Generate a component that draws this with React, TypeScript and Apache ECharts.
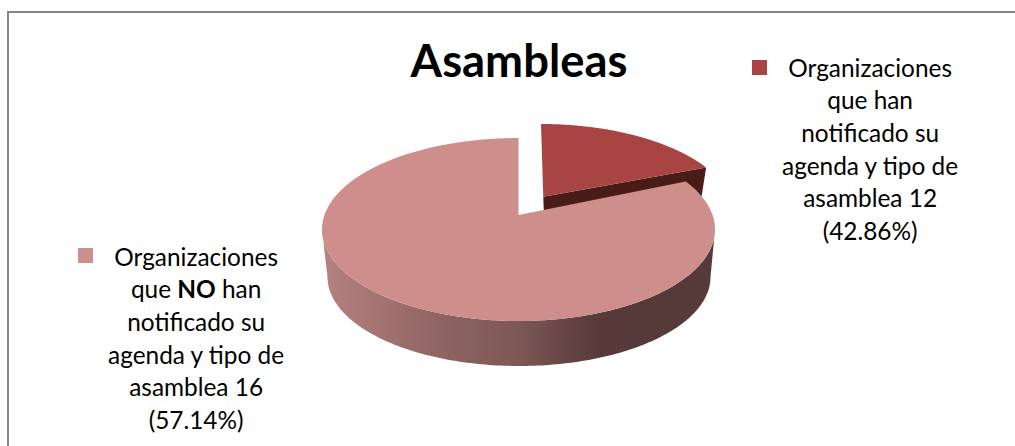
import React, { useEffect, useRef } from "react";
import * as echarts from "echarts";

const titleText = "Asambleas";
const sliceNames = [
  "Organizaciones que han notificado su agenda y tipo de asamblea 12 (42.86%)",
  "Organizaciones que NO han notificado su agenda y tipo de asamblea 16 (57.14%)",
];
// Shares of the circle as they are drawn in the picture.
const drawnShares = [16.2, 83.8];
const legendLinesA = ["Organizaciones", "que han", "notificado su", "agenda y tipo de", "asamblea 12", "(42.86%)"];
const legendLinesB = ["Organizaciones", "que {b|NO} han", "notificado su", "agenda y tipo de", "asamblea 16", "(57.14%)"];
const colors = ["#a84542", "#ce8e8c"];

const FONT = "Lato, 'Open Sans', sans-serif";
const LEGEND_SIZE = 24.4;
const LINE_H = 32.6;

function ellipsePoints(cx: number, cy: number, rx: number, ry: number, from: number, to: number) {
  const pts: number[][] = [];
  const n = 160;
  for (let i = 0; i <= n; i++) {
    const a = from + ((to - from) * i) / n;
    pts.push([cx + rx * Math.sin(a), cy - ry * Math.cos(a)]);
  }
  return pts;
}

const total = drawnShares.reduce((s, v) => s + v, 0);

function renderSmall(_p: any, api: any) {
  const end = (api.value(0) / total) * Math.PI * 2;
  const cx = 541, cy = 215.5, rx = 194, ry = 91.5;
  const apex = [543.3, 196.7];
  const arc = ellipsePoints(cx, cy, rx, ry, 0, end);
  const corner = arc[arc.length - 1];
  return {
    type: "group",
    children: [
      {
        type: "polygon",
        shape: { points: [apex, corner, [corner[0] - 5, corner[1] + 32], [apex[0] + 0.5, apex[1] + 13.5]] },
        style: { fill: "#4a1c18" },
      },
      {
        type: "polygon",
        shape: { points: [[541, 124], apex, [apex[0] + 0.5, apex[1] + 13.5], [541.5, 140]] },
        style: { fill: "#4a1c18" },
      },
      {
        type: "polygon",
        shape: { points: [apex, ...arc] },
        style: { fill: colors[0] },
      },
    ],
  };
}

function renderMain(_p: any, api: any) {
  const start = (1 - api.value(0) / total) * Math.PI * 2;
  const cx = 518.5, cy = 229.5, rx = 196.5, ry = 91.5;
  const apex = [518.5, 215];
  const arc = ellipsePoints(cx, cy, rx, ry, start, Math.PI * 2);
  const topFront = ellipsePoints(cx, cy, rx, ry, Math.PI / 2, (Math.PI * 3) / 2);
  const baseFront = ellipsePoints(519, 277, 191.5, 89, (Math.PI * 3) / 2, Math.PI / 2);
  return {
    type: "group",
    children: [
      {
        type: "polygon",
        shape: { points: [...topFront, ...baseFront] },
        style: {
          fill: {
            type: "linear",
            x: 0,
            y: 0,
            x2: 1,
            y2: 0,
            colorStops: [
              { offset: 0, color: "#b58280" },
              { offset: 0.3, color: "#8f6463" },
              { offset: 0.5, color: "#7c5856" },
              { offset: 0.7, color: "#573a39" },
              { offset: 1, color: "#553a39" },
            ],
          },
        },
      },
      {
        type: "polygon",
        shape: { points: [apex, ...arc] },
        style: { fill: colors[1] },
      },
    ],
  };
}

// A square inside a tall, otherwise empty, symbol box keeps the marker on the first text line.
const markerHeight = LINE_H * 6;
const markerPath = (d: number) =>
  `path://M0 0L15 0L0 0ZM0 ${d}H15V${d + 15}H0ZM0 ${markerHeight}L15 ${markerHeight}L0 ${markerHeight}Z`;

const richBase = { fontFamily: FONT, fontSize: LEGEND_SIZE, lineHeight: LINE_H, color: "#000", align: "center" };

function legendOf(name: string, lines: string[], left: number, top: number, gap: number, d: number) {
  return {
    show: true,
    data: [{ name, icon: markerPath(d) }],
    left,
    top,
    padding: 0,
    itemWidth: 15,
    itemHeight: markerHeight,
    itemGap: 0,
    selectedMode: false,
    textStyle: {
      padding: [0, 0, 0, gap],
      rich: {
        a: richBase,
        b: { ...richBase, fontWeight: "bold" },
      },
    },
    formatter: () => lines.map((l) => l.split(/(\{b\|NO\})/).map((p) => (p.startsWith("{b|") ? p : p ? `{a|${p}}` : "")).join("")).join("\n"),
  };
}

export default function App() {
  const ref = useRef<HTMLDivElement>(null);
  useEffect(() => {
    const chart = echarts.init(ref.current!, undefined, { renderer: "svg" });
    chart.setOption({
      animation: false,
      backgroundColor: "#fff",
      title: {
        text: titleText,
        left: 514,
        top: 32,
        textAlign: "center",
        textStyle: { fontFamily: FONT, fontSize: 45.4, fontWeight: "bold", color: "#000" },
      },
      legend: [
        legendOf(sliceNames[0], legendLinesA, 752, 51, 9.5, 9),
        legendOf(sliceNames[1], legendLinesB, 78, 240, 9.5, 8),
      ],
      graphic: [
        {
          type: "polyline",
          z: -1,
          shape: { points: [[8, 446], [8, 12], [1015, 12]] },
          style: { fill: "none", stroke: "#868686", lineWidth: 2 },
        },
      ],
      series: [
        {
          type: "custom",
          name: sliceNames[0],
          coordinateSystem: "none",
          itemStyle: { color: colors[0] },
          renderItem: renderSmall,
          data: [[drawnShares[0]]],
          z: 1,
        },
        {
          type: "custom",
          name: sliceNames[1],
          coordinateSystem: "none",
          itemStyle: { color: colors[1] },
          renderItem: renderMain,
          data: [[drawnShares[1]]],
          z: 2,
        },
      ],
    });
    return () => chart.dispose();
  }, []);
  return <div ref={ref} style={{ position: "fixed", left: 0, top: 0, width: 1015, height: 446 }} />;
}
